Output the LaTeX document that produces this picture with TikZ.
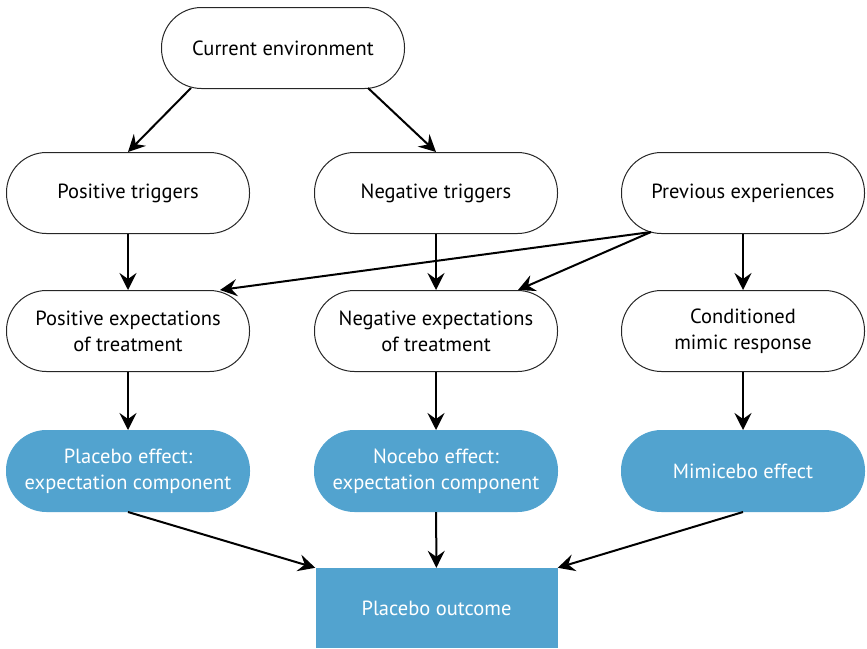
\documentclass[tikz,border=0pt]{standalone}
\usepackage{fontspec}
\setmainfont{PT Sans}
\usetikzlibrary{arrows.meta}
\definecolor{pblue}{HTML}{52A3CF}
\begin{document}
\begin{tikzpicture}[x=1pt,y=-1pt,
  pill/.style={draw=black!85,line width=1pt,rounded corners=40pt,minimum width=243pt,minimum height=81pt,align=center,font=\fontsize{20.5}{26}\selectfont,inner sep=0pt},
  bpill/.style={pill,draw=pblue,fill=pblue,text=white},
  outbox/.style={fill=pblue,text=white,minimum width=242pt,minimum height=80pt,inner sep=0pt,font=\fontsize{20.5}{26}\selectfont},
  arr/.style={-{Stealth[length=17pt,width=17pt,inset=6pt]},line width=2pt}]
\useasboundingbox (0,0) rectangle (867,648);
\node[pill] (env) at (283,48) {Current environment};
\node[pill] (pt) at (128,193) {Positive triggers};
\node[pill] (nt) at (436,193) {Negative triggers};
\node[pill] (pe) at (743,193) {Previous experiences};
\node[pill] (pex) at (128,331) {Positive expectations\\of treatment};
\node[pill] (nex) at (436,331) {Negative expectations\\of treatment};
\node[pill] (cmr) at (743,331) {Conditioned\\mimic response};
\node[bpill] (plc) at (128,471) {Placebo effect:\\expectation component};
\node[bpill] (noc) at (436,471) {Nocebo effect:\\expectation component};
\node[bpill] (mim) at (743,471) {Mimicebo effect};
\node[outbox] (out) at (436.5,608) {Placebo outcome};
\coordinate (envL) at (191,88);
\coordinate (envR) at (368,88);
\coordinate (peL) at (651,232);
\draw[arr] (envL) -- (pt.north);
\draw[arr] (envR) -- (nt.north -| 436,0) ;
\draw[arr] (pt) -- (pex);
\draw[arr] (nt) -- (nex);
\draw[arr] (pe) -- (cmr);
\draw[arr] (peL) -- (220,290);
\draw[arr] (peL) -- (518,290);
\draw[arr] (pex) -- (plc);
\draw[arr] (nex) -- (noc);
\draw[arr] (cmr) -- (mim);
\draw[arr] (plc.south) -- (out.north west);
\draw[arr] (noc) -- (out);
\draw[arr] (mim.south) -- (out.north east);
\end{tikzpicture}
\end{document}
